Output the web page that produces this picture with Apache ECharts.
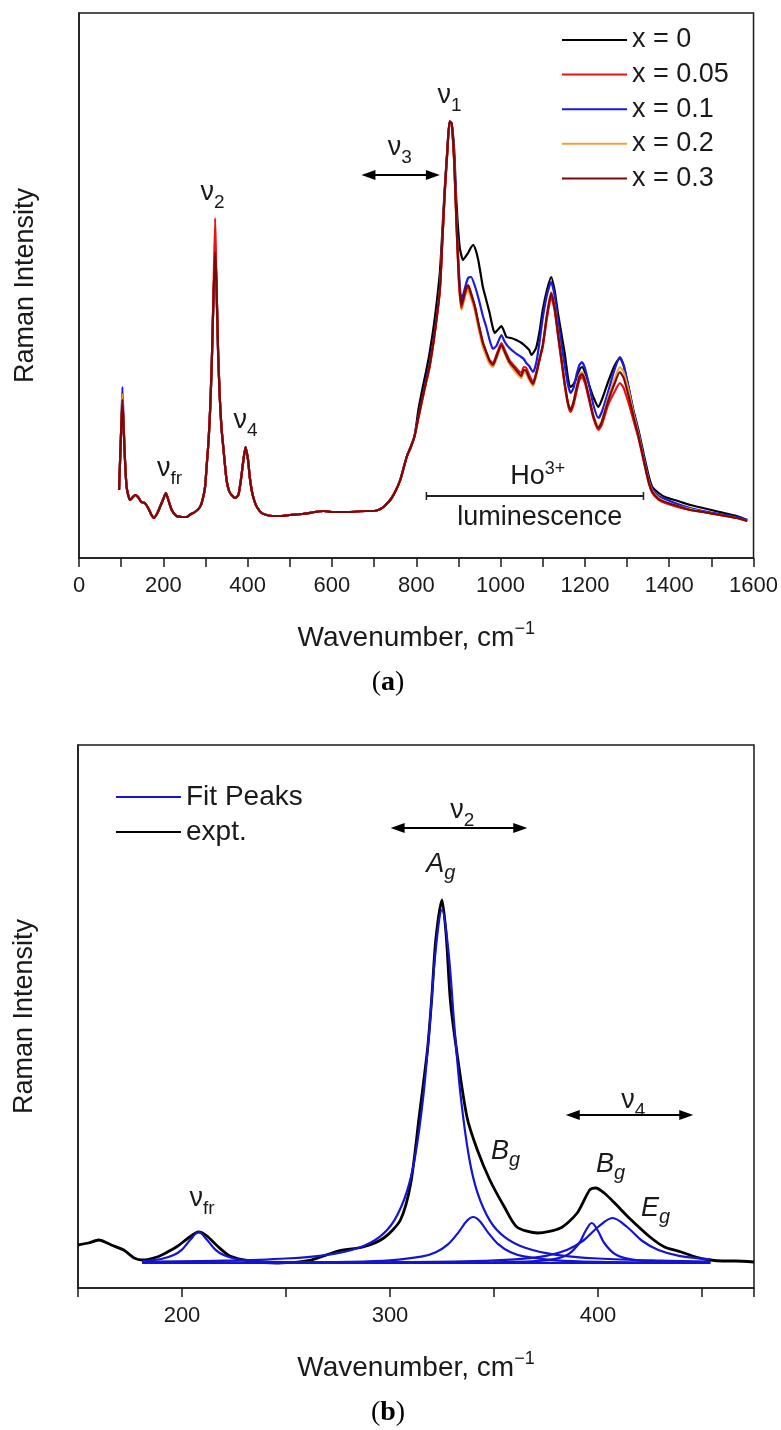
<!DOCTYPE html>
<html><head><meta charset="utf-8">
<script src="https://cdn.jsdelivr.net/npm/echarts@6/dist/echarts.min.js"></script>
<style>html,body{margin:0;padding:0;background:#fff}#c{width:781px;height:1430px}</style>
</head><body><div id="c"></div>
<script>
// ---------- Panel (a) data ----------
const seriesNames = ['x = 0', 'x = 0.05', 'x = 0.1', 'x = 0.2', 'x = 0.3'];
const seriesColors = ['#000000', '#ee1111', '#1a1ae0', '#f2a03c', '#7a0a0a'];

// shared low-frequency part (all compositions overlap)
const lowWavenumber = [95,100,108,113,121,128,133,140,148,156,164,172,178,186,192,200,206,212,220,231,245,255,266,275,287,293,299,303,307,311,315,318,326,330,334,338,342,350,356,362,370,378,384,390,395,401,405,410,416,422,433,445,460,480,500,530,560,580,600,640,680,700,715,725,740,752,762,770,778,787,796];
const lowIntensity = [68,128,108,71,58,61,63,61,56,55,50,43,40,45,51,59,65,58,48,42,41,41,44,46,51,58,71,93,115,148,195,245,275,205,160,130,112,78,67,63,60,63,78,98,111,98,81,67,57,51,45,43,42,42,43,44,46,47,46,46,47,47,49,52,59,68,78,90,102,111,122];
// peak tops that differ per composition (order as seriesNames)
const spikeWavenumber = 103;
const spikeTop = [158, 158, 171, 164, 158];
const nu2Wavenumber = 323;
const nu2Top = [306, 340, 306, 313, 306];

// x = 0 high-frequency part
const highWavenumberX0 = [805,814,823,832,844,856,862,868,874,879,884,890,895,903,911,918,923,929,935,941,947,952,958,966,974,980,986,993,1002,1008,1014,1025,1037,1050,1061,1068,1073,1079,1085,1093,1100,1110,1120,1128,1136,1144,1152,1160,1165,1172,1180,1187,1193,1200,1210,1220,1232,1240,1255,1270,1283,1292,1305,1315,1327,1340,1352,1360,1375,1390,1420,1450,1480,1520,1560,1585];
const highX0 = [148,168,186,206,240,286,328,373,410,436,434,408,358,311,298,302,305,310,313,308,298,286,271,258,245,233,225,228,232,227,221,220,218,215,211,208,203,206,211,228,248,268,281,268,245,225,205,180,171,173,180,188,191,186,173,161,151,158,176,192,200,192,168,148,128,103,81,71,65,61,57,53,50,46,42,38];

// doped samples high-frequency part
const highWavenumber = [805,814,823,832,844,856,862,868,874,879,884,890,895,901,907,913,918,923,930,939,948,958,966,974,982,990,1002,1010,1021,1035,1049,1055,1061,1068,1077,1085,1093,1100,1110,1120,1128,1136,1144,1152,1160,1166,1173,1180,1187,1193,1200,1210,1220,1232,1240,1255,1270,1283,1292,1305,1315,1327,1340,1352,1360,1375,1390,1420,1450,1480,1520,1560,1585];
const highX005 = [140,158,175,192,225,268,318,368,408,436,434,396,338,278,250,260,268,271,263,251,233,215,206,198,195,203,215,208,198,191,185,191,190,183,176,186,200,211,240,261,248,223,198,173,153,146,153,166,178,181,175,158,140,128,133,153,166,175,170,153,138,120,96,74,65,58,55,51,48,46,43,40,37];
const highX01 = [142,160,178,195,228,270,320,370,409,436,434,398,343,288,258,266,274,280,281,272,259,242,231,218,209,212,223,216,210,205,201,199,195,192,186,196,218,240,263,276,263,238,215,193,173,165,170,183,193,196,190,173,153,140,146,166,188,201,193,168,146,126,100,78,69,62,59,54,50,47,44,41,38];
const highX02 = [139,157,174,191,224,267,317,367,407,435,433,395,337,277,248,257,265,268,260,247,229,211,202,194,191,199,211,204,194,186,180,186,184,178,172,183,198,212,243,266,252,226,200,175,155,148,157,171,183,186,180,162,143,131,137,160,178,191,186,165,145,124,98,76,67,60,56,52,49,46,43,40,37];
const highX03 = [141,159,176,193,226,269,319,369,409,437,435,397,340,281,253,262,270,273,265,252,234,216,206,197,193,201,213,206,196,189,182,188,187,180,174,185,200,213,243,265,251,225,200,175,155,148,156,169,181,184,178,160,142,130,136,157,174,186,180,160,142,122,97,75,66,59,56,52,48,46,43,40,37];

// ---------- Panel (b) data ----------
const exptWavenumber = [150,155,160,166,172,177,181,188,193,198,203,208,212,217,223,233,246,262,275,287,297,305,310,314,318,320,322,325,327,329,332,337,342,348,355,361,371,382,390,396,399,403,408,415,425,432,440,447,454,460,466,475];
const exptIntensity = [43,45,48,43,38,30,28,31,36,42,50,56,52,42,32,27,25,28,37,41,50,68,105,171,238,288,348,388,353,288,238,171,138,108,81,61,55,60,75,98,100,95,85,70,51,41,36,31,28,27,27,26];

const fitFrX = [181,190,196,200,204,208,212,216,220,226,235,250,300,380,454];
const fitFrY = [27,29,33,38.4,48.3,56,48.3,38.4,33,29,27,25.8,25.2,25.1,25];
const fitAgX = [181,220,250,270,285,295,302,308,312,316,319,322,325,328,331,334,338,342,348,355,365,380,400,430,454];
const fitAgY = [26.2,27.3,29.5,33.2,40.3,51.2,67.4,95.6,130.7,191.5,260.6,338.8,378,338.8,260.6,191.5,130.7,95.6,67.4,51.2,40.3,33.2,29.5,27.3,26.5];
const fitBg1X = [181,250,280,300,315,322,328,333,337,340,343,347,352,358,365,380,400,430,454];
const fitBg1Y = [25.2,25.6,26.2,27.7,31.3,35.8,43.9,55.9,67.2,71,67.2,55.9,43.9,35.8,31.3,27.7,26.2,25.6,25.4];
const fitBg2X = [181,300,350,370,380,386,391,394,397,400,403,408,414,424,440,454];
const fitBg2Y = [25,25.2,25.6,26.9,29.4,34.1,45,57,65,57,45,34.1,29.4,26.9,25.8,25.4];
const fitEgX = [181,300,340,360,375,385,393,400,407,414,421,429,439,454];
const fitEgY = [25.2,25.8,26.9,28.7,32.2,38,47.5,61,70,61,47.5,38,32.2,28.7];

// ---------- build ----------
const FONT = "'Liberation Sans', Arial, sans-serif";
const INK = '#1a1a1a';
const zip = (xs, ys) => xs.map((x, i) => [x, ys[i]]);
const highSets = [[highWavenumberX0, highX0],[highWavenumber, highX005],[highWavenumber, highX01],[highWavenumber, highX02],[highWavenumber, highX03]];
function buildSpectrum(i) {
  const pts = zip(lowWavenumber, lowIntensity);
  pts.push([spikeWavenumber, spikeTop[i]]);
  pts.push([nu2Wavenumber, nu2Top[i]]);
  pts.sort((a, b) => a[0] - b[0]);
  return pts.concat(zip(highSets[i][0], highSets[i][1]));
}
const drawOrder = [0, 2, 3, 1, 4];
const topSeries = drawOrder.map((i, k) => ({
  name: seriesNames[i], type: 'line', xAxisIndex: 0, yAxisIndex: 0,
  data: buildSpectrum(i), showSymbol: false, symbol: 'none', smooth: 0.2,
  lineStyle: { color: seriesColors[i], width: 2.2 }, itemStyle: { color: seriesColors[i] },
  z: 2 + k, animation: false
}));

const BLUE = '#1414d2';
const fitSets = [[fitFrX, fitFrY],[fitAgX, fitAgY],[fitBg1X, fitBg1Y],[fitBg2X, fitBg2Y],[fitEgX, fitEgY]];
const bottomSeries = [{
  name: 'expt.', type: 'line', xAxisIndex: 1, yAxisIndex: 1,
  data: zip(exptWavenumber, exptIntensity), showSymbol: false, symbol: 'none', smooth: 0.25,
  lineStyle: { color: '#000', width: 2.8 }, itemStyle: { color: '#000' }, z: 2, animation: false
}].concat(fitSets.map(s => ({
  name: 'Fit Peaks', type: 'line', xAxisIndex: 1, yAxisIndex: 1,
  data: zip(s[0], s[1]), showSymbol: false, symbol: 'none', smooth: 0.35,
  lineStyle: { color: BLUE, width: 2.2 }, itemStyle: { color: BLUE }, z: 3, animation: false
})));

const axisLineStyle = { color: INK, width: 1.5 };
const nameRich = {
  t: { fontSize: 28, fontFamily: FONT, color: INK },
  s: { fontSize: 18, fontFamily: FONT, color: INK, verticalAlign: 'top', lineHeight: 36 }
};
function xAxisCfg(gridIndex, min, max, interval, minor, labelFilter) {
  return {
    type: 'value', gridIndex, min, max, interval,
    axisLine: { show: true, onZero: false, lineStyle: axisLineStyle },
    axisTick: { show: true, inside: false, length: 9, lineStyle: axisLineStyle },
    minorTick: { show: minor, splitNumber: 2, length: 9, lineStyle: axisLineStyle },
    splitLine: { show: false }, minorSplitLine: { show: false },
    axisLabel: { fontSize: 22, color: INK, fontFamily: FONT, margin: 17,
      formatter: labelFilter, showMaxLabel: true },
    name: '{t|Wavenumber, cm}{s|\u22121}', nameLocation: 'middle', nameGap: 62,
    nameTextStyle: { rich: nameRich }
  };
}
function yAxisCfg(gridIndex, max) {
  return {
    type: 'value', gridIndex, min: 0, max,
    axisLine: { show: true, onZero: false, lineStyle: axisLineStyle },
    axisTick: { show: false }, axisLabel: { show: false }, splitLine: { show: false },
    name: 'Raman Intensity', nameLocation: 'middle', nameRotate: 90, nameGap: 40,
    nameTextStyle: { fontSize: 27, fontFamily: FONT, color: INK }
  };
}

const option = {
  backgroundColor: '#ffffff',
  animation: false,
  grid: [
    { left: 79, top: 13, width: 675, height: 545, show: true, borderColor: INK, borderWidth: 1.5 },
    { left: 78, top: 745, width: 676, height: 543, show: true, borderColor: INK, borderWidth: 1.5 }
  ],
  xAxis: [
    xAxisCfg(0, 0, 1600, 200, true, v => String(v)),
    xAxisCfg(1, 150, 475, 50, false, v => (v % 100 === 0 ? String(v) : ''))
  ],
  yAxis: [yAxisCfg(0, 545), yAxisCfg(1, 543)],
  legend: [
    { data: seriesNames, orient: 'vertical', left: 562, top: 25, padding: 0, itemWidth: 65, itemHeight: 2, icon: 'rect',
      itemGap: 4.6, selectedMode: false, textStyle: { fontSize: 27, fontFamily: FONT, color: INK, lineHeight: 30 } },
    { data: ['Fit Peaks', 'expt.'], orient: 'vertical', left: 116, top: 782, padding: 0, itemWidth: 65, itemHeight: 2, icon: 'rect',
      itemGap: 5, selectedMode: false, textStyle: { fontSize: 28, fontFamily: FONT, color: INK, lineHeight: 30 } }
  ],
  series: topSeries.concat(bottomSeries)
};

const chart = echarts.init(document.getElementById('c'), null, { renderer: 'canvas' });
chart.setOption(option);

// ---------- annotations (positioned in data coordinates) ----------
const P = (g, x, y) => chart.convertToPixel({ gridIndex: g }, [x, y]);
const subRich = {
  n: { fontSize: 27, fontFamily: FONT, fill: INK, color: INK, lineHeight: 38 },
  s: { fontSize: 19, fontFamily: FONT, fill: INK, color: INK, lineHeight: 38, verticalAlign: 'bottom' },
  i: { fontSize: 27, fontFamily: FONT, fontStyle: 'italic', fill: INK, color: INK, lineHeight: 38 },
  ig: { fontSize: 20, fontFamily: FONT, fontStyle: 'italic', fill: INK, color: INK, lineHeight: 38, verticalAlign: 'bottom' },
  h: { fontSize: 27, fontFamily: FONT, fill: INK, color: INK, lineHeight: 34 },
  p: { fontSize: 18, fontFamily: FONT, fill: INK, color: INK, lineHeight: 34, verticalAlign: 'top' }
};
function label(g, x, y, text, dy) {
  const p = P(g, x, y);
  return { type: 'text', x: p[0], y: p[1] + (dy || 0), z: 100,
    style: { text, rich: subRich, fill: INK, align: 'center', verticalAlign: 'middle',
      textAlign: 'center', textVerticalAlign: 'middle', font: '27px ' + FONT } };
}
function doubleArrow(g, x1, x2, y) {
  const a = P(g, x1, y), b = P(g, x2, y);
  const L = 14, H = 5;
  return [
    { type: 'line', z: 100, shape: { x1: a[0] + L - 2, y1: a[1], x2: b[0] - L + 2, y2: b[1] }, style: { stroke: '#000', lineWidth: 2 } },
    { type: 'polygon', z: 100, shape: { points: [[a[0], a[1]], [a[0] + L, a[1] - H], [a[0] + L, a[1] + H]] }, style: { fill: '#000' } },
    { type: 'polygon', z: 100, shape: { points: [[b[0], b[1]], [b[0] - L, b[1] - H], [b[0] - L, b[1] + H]] }, style: { fill: '#000' } }
  ];
}
function rangeBar(g, x1, x2, y) {
  const a = P(g, x1, y), b = P(g, x2, y);
  return [
    { type: 'line', z: 100, shape: { x1: a[0], y1: a[1], x2: b[0], y2: b[1] }, style: { stroke: '#222', lineWidth: 2 } },
    { type: 'line', z: 100, shape: { x1: a[0], y1: a[1] - 4, x2: a[0], y2: a[1] + 4 }, style: { stroke: '#222', lineWidth: 1.5 } },
    { type: 'line', z: 100, shape: { x1: b[0], y1: b[1] - 4, x2: b[0], y2: b[1] + 4 }, style: { stroke: '#222', lineWidth: 1.5 } }
  ];
}
const SUB_DY = -4;
const elements = [
  label(0, 317, 361, '{n|\u03bd}{s|2}', SUB_DY),
  label(0, 395, 133, '{n|\u03bd}{s|4}', SUB_DY),
  label(0, 215, 85, '{n|\u03bd}{s|fr}', SUB_DY),
  label(0, 761, 406, '{n|\u03bd}{s|3}', SUB_DY),
  label(0, 879, 458, '{n|\u03bd}{s|1}', SUB_DY),
  label(0, 1088, 81, '{h|Ho}{p|3+}', 0),
  label(0, 1093, 40, '{h|luminescence}', 0),
  ...doubleArrow(0, 670, 856, 383),
  ...rangeBar(0, 824, 1339, 62),
  label(1, 334.8, 473, '{n|\u03bd}{s|2}', SUB_DY),
  ...doubleArrow(1, 300.3, 366, 460),
  label(1, 324.4, 420, '{i|A}{ig|g}', SUB_DY),
  label(1, 209.6, 85, '{n|\u03bd}{s|fr}', SUB_DY),
  label(1, 355.6, 133, '{i|B}{ig|g}', SUB_DY),
  label(1, 406, 120, '{i|B}{ig|g}', SUB_DY),
  label(1, 427.7, 76, '{i|E}{ig|g}', SUB_DY),
  label(1, 417, 183, '{n|\u03bd}{s|4}', SUB_DY),
  ...doubleArrow(1, 384.5, 445.8, 173)
];
const panelRich = {
  r: { fontSize: 28, fontFamily: "'Liberation Serif', 'Times New Roman', serif", fill: '#000', color: '#000' },
  b: { fontSize: 28, fontFamily: "'Liberation Serif', 'Times New Roman', serif", fontWeight: 'bold', fill: '#000', color: '#000' }
};
[['a', 683], ['b', 1413]].forEach(([t, y]) => {
  elements.push({ type: 'text', x: 388, y, z: 100,
    style: { text: '{r|(}{b|' + t + '}{r|)}', rich: panelRich, align: 'center', verticalAlign: 'middle',
      textAlign: 'center', textVerticalAlign: 'middle', font: '28px serif' } });
});
chart.setOption({ graphic: { elements } });
</script>
</body></html>
